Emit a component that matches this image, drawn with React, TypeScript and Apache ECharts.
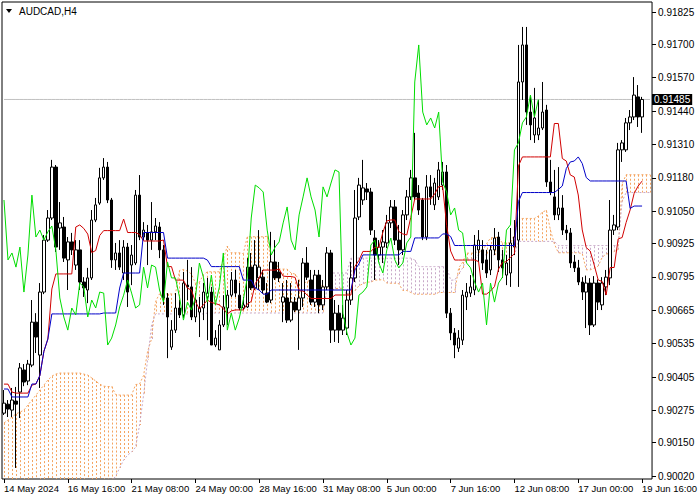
import React, { useEffect, useRef } from "react";
import * as echarts from "echarts";

const symbolTitle = "AUDCAD,H4";
const monthNames = ["Jan", "Feb", "Mar", "Apr", "May", "Jun", "Jul", "Aug", "Sep", "Oct", "Nov", "Dec"];
const startDate = Date.UTC(2024, 4, 14, 0, 0);
const futureBars = 2;

const opens = [
  0.90265, 0.90300, 0.90277, 0.90312, 0.90347, 0.90433, 0.90390, 0.90452, 0.90619, 0.90491,
  0.90736, 0.90938, 0.91024, 0.91222, 0.90985, 0.90989, 0.90861, 0.90931, 0.90841, 0.90900,
  0.90775, 0.90744, 0.90791, 0.91016, 0.91082, 0.91180, 0.91222, 0.91094, 0.90861, 0.90888,
  0.90810, 0.90911, 0.90841, 0.90849, 0.91113, 0.90950, 0.90966, 0.90938, 0.90970, 0.90989,
  0.90900, 0.90713, 0.90522, 0.90588, 0.90674, 0.90647, 0.90763, 0.90756, 0.90639, 0.90658,
  0.90674, 0.90717, 0.90736, 0.90530, 0.90511, 0.90608, 0.90674, 0.90724, 0.90783, 0.90724,
  0.90674, 0.90678, 0.90833, 0.90752, 0.90791, 0.90794, 0.90732, 0.90705, 0.90853, 0.90814,
  0.90697, 0.90713, 0.90627, 0.90697, 0.90666, 0.90713, 0.90849, 0.90783, 0.90697, 0.90802,
  0.90686, 0.90756, 0.90888, 0.90588, 0.90654, 0.90588, 0.90596, 0.90705, 0.90791, 0.91028,
  0.91094, 0.91137, 0.91125, 0.90946, 0.90880, 0.90911, 0.90927, 0.91005, 0.91067, 0.90938,
  0.90900, 0.91036, 0.91106, 0.91180, 0.91121, 0.91094, 0.90950, 0.91145, 0.91075, 0.91106,
  0.91152, 0.91203, 0.90654, 0.90577, 0.90518, 0.90549, 0.90717, 0.90732, 0.90744, 0.90900,
  0.90900, 0.90861, 0.90822, 0.90900, 0.90950, 0.90861, 0.90802, 0.90810, 0.90911, 0.90938,
  0.91553, 0.91697, 0.91436, 0.91347, 0.91347, 0.91374, 0.91444, 0.91164, 0.91106, 0.91036,
  0.91063, 0.90977, 0.90966, 0.90853, 0.90830, 0.90775, 0.90736, 0.90771, 0.90608, 0.90771,
  0.90686, 0.90756, 0.90791, 0.90977, 0.90989, 0.91289, 0.91289, 0.91394, 0.91417, 0.91495,
  0.91417,
];

const closes = [
  0.90304, 0.90281, 0.90316, 0.90300, 0.90441, 0.90386, 0.90456, 0.90619, 0.90561, 0.90736,
  0.90938, 0.91024, 0.91222, 0.90911, 0.91005, 0.90868, 0.90931, 0.90900, 0.90900, 0.90775,
  0.90752, 0.90791, 0.91016, 0.91075, 0.91180, 0.91222, 0.91094, 0.90861, 0.90888, 0.90833,
  0.90911, 0.90736, 0.90880, 0.91113, 0.90950, 0.90977, 0.90938, 0.90970, 0.90993, 0.90900,
  0.90713, 0.90639, 0.90588, 0.90674, 0.90647, 0.90771, 0.90756, 0.90639, 0.90705, 0.90674,
  0.90736, 0.90732, 0.90530, 0.90557, 0.90608, 0.90678, 0.90724, 0.90783, 0.90732, 0.90674,
  0.90686, 0.90833, 0.90752, 0.90841, 0.90833, 0.90744, 0.90697, 0.90853, 0.90791, 0.90791,
  0.90717, 0.90627, 0.90697, 0.90666, 0.90713, 0.90849, 0.90794, 0.90697, 0.90802, 0.90686,
  0.90756, 0.90888, 0.90588, 0.90654, 0.90588, 0.90635, 0.90705, 0.90791, 0.91024, 0.91152,
  0.91141, 0.91125, 0.90977, 0.90880, 0.90911, 0.90931, 0.91005, 0.91067, 0.90938, 0.90900,
  0.91036, 0.91106, 0.91180, 0.91106, 0.91055, 0.90950, 0.91145, 0.91106, 0.91160, 0.91211,
  0.91203, 0.90654, 0.90577, 0.90530, 0.90557, 0.90724, 0.90736, 0.90756, 0.90919, 0.90938,
  0.90849, 0.90810, 0.90900, 0.90946, 0.90861, 0.90830, 0.90849, 0.90927, 0.90950, 0.91553,
  0.91697, 0.91436, 0.91386, 0.91413, 0.91374, 0.91436, 0.91164, 0.91125, 0.91036, 0.91063,
  0.90977, 0.90966, 0.90849, 0.90830, 0.90775, 0.90736, 0.90771, 0.90608, 0.90771, 0.90697,
  0.90771, 0.90794, 0.90977, 0.90997, 0.91289, 0.91316, 0.91394, 0.91417, 0.91502, 0.91417,
  0.91485,
];

const lows = [
  0.90258, 0.90250, 0.90250, 0.90052, 0.90246, 0.90370, 0.90374, 0.90444, 0.90499, 0.90363,
  0.90728, 0.90931, 0.91016, 0.90892, 0.90900, 0.90853, 0.90744, 0.90880, 0.90822, 0.90744,
  0.90717, 0.90693, 0.90783, 0.91008, 0.91075, 0.91172, 0.91082, 0.90830, 0.90822, 0.90822,
  0.90783, 0.90678, 0.90763, 0.90841, 0.90938, 0.90938, 0.90841, 0.90900, 0.90938, 0.90868,
  0.90686, 0.90479, 0.90511, 0.90577, 0.90635, 0.90635, 0.90705, 0.90627, 0.90619, 0.90561,
  0.90627, 0.90549, 0.90530, 0.90522, 0.90511, 0.90600, 0.90608, 0.90717, 0.90717, 0.90666,
  0.90666, 0.90674, 0.90744, 0.90744, 0.90744, 0.90732, 0.90693, 0.90693, 0.90783, 0.90775,
  0.90619, 0.90616, 0.90619, 0.90658, 0.90511, 0.90678, 0.90783, 0.90686, 0.90678, 0.90654,
  0.90666, 0.90744, 0.90538, 0.90542, 0.90538, 0.90569, 0.90569, 0.90686, 0.90775, 0.91016,
  0.91075, 0.91094, 0.90958, 0.90783, 0.90853, 0.90849, 0.90907, 0.90985, 0.90919, 0.90841,
  0.90880, 0.91016, 0.91094, 0.91094, 0.91036, 0.90938, 0.90938, 0.91075, 0.91055, 0.91094,
  0.91133, 0.90635, 0.90549, 0.90479, 0.90503, 0.90530, 0.90666, 0.90717, 0.90724, 0.90853,
  0.90822, 0.90791, 0.90802, 0.90880, 0.90814, 0.90791, 0.90763, 0.90756, 0.90880, 0.90756,
  0.91483, 0.91386, 0.91327, 0.91316, 0.91327, 0.91366, 0.91145, 0.91113, 0.91016, 0.91016,
  0.90958, 0.90938, 0.90830, 0.90814, 0.90763, 0.90705, 0.90596, 0.90569, 0.90600, 0.90666,
  0.90666, 0.90724, 0.90763, 0.90958, 0.90977, 0.91242, 0.91281, 0.91366, 0.91405, 0.91378,
  0.91355,
];

const highs = [
  0.90355, 0.90316, 0.90363, 0.90367, 0.90460, 0.90456, 0.90472, 0.90705, 0.90654, 0.90771,
  0.90958, 0.91055, 0.91250, 0.91230, 0.91086, 0.91028, 0.90950, 0.90966, 0.90938, 0.90938,
  0.90794, 0.90830, 0.91055, 0.91102, 0.91219, 0.91257, 0.91242, 0.91102, 0.90927, 0.90938,
  0.90938, 0.90927, 0.90919, 0.91133, 0.91191, 0.91008, 0.90997, 0.91086, 0.91024, 0.91008,
  0.90919, 0.90732, 0.90627, 0.90732, 0.90705, 0.90814, 0.90861, 0.90833, 0.90732, 0.90717,
  0.90771, 0.90791, 0.90756, 0.90588, 0.90627, 0.90724, 0.90744, 0.90814, 0.90822, 0.90771,
  0.90717, 0.90868, 0.90888, 0.90938, 0.90977, 0.90822, 0.90771, 0.90970, 0.90938, 0.90853,
  0.90771, 0.90783, 0.90771, 0.90717, 0.90783, 0.90868, 0.90911, 0.90822, 0.90822, 0.90822,
  0.90783, 0.90911, 0.90900, 0.90705, 0.90686, 0.90686, 0.90744, 0.90853, 0.91133, 0.91180,
  0.91250, 0.91160, 0.91141, 0.90977, 0.90938, 0.90977, 0.91036, 0.91094, 0.91094, 0.90997,
  0.91055, 0.91133, 0.91211, 0.91355, 0.91152, 0.91102, 0.91191, 0.91191, 0.91180, 0.91242,
  0.91242, 0.91230, 0.90674, 0.90596, 0.90588, 0.90744, 0.90771, 0.90802, 0.90958, 0.90977,
  0.90938, 0.90900, 0.90919, 0.90985, 0.90970, 0.90900, 0.90880, 0.90985, 0.91016, 0.91697,
  0.91767, 0.91767, 0.91502, 0.91530, 0.91483, 0.91553, 0.91464, 0.91250, 0.91211, 0.91222,
  0.91113, 0.90997, 0.90985, 0.90880, 0.90861, 0.90794, 0.90800, 0.90790, 0.90798, 0.90785,
  0.90794, 0.90822, 0.91094, 0.91036, 0.91316, 0.91327, 0.91413, 0.91444, 0.91572, 0.91541,
  0.91495,
];

// Indicator values at the left edge, which depend on bars before the visible window
const tenkanHead = [0.90378, 0.90378, 0.90347, 0.90343, 0.90343, 0.90343, 0.90343, 0.90374];
const kijunHead = [0.90359, 0.90359, 0.90328, 0.90328, 0.90328, 0.90328, 0.90328];
const spanAHead = [
  0.90227, 0.90238, 0.90250, 0.90262, 0.90269, 0.90277, 0.90297, 0.90316, 0.90335, 0.90355,
  0.90374, 0.90394, 0.90409, 0.90417, 0.90421, 0.90421, 0.90421, 0.90421, 0.90421, 0.90421,
  0.90417, 0.90413, 0.90402, 0.90390, 0.90378, 0.90370,
];
const spanBHead = [
  0.89900, 0.89900, 0.89900, 0.89900, 0.89900, 0.89900, 0.89900, 0.89900, 0.89900, 0.89900,
  0.89900, 0.89900, 0.89900, 0.89900, 0.89900, 0.89900, 0.89900, 0.89900, 0.89900, 0.89900,
  0.89900, 0.89900, 0.89900, 0.89900, 0.89900, 0.89950, 0.89980, 0.90000, 0.90020, 0.90052,
  0.90083, 0.90102, 0.90114, 0.90133, 0.90219, 0.90335, 0.90472, 0.90608,
];

const priceTicks = [
  0.90020, 0.90150, 0.90275, 0.90405, 0.90535, 0.90665, 0.90795, 0.90925,
  0.91050, 0.91180, 0.91310, 0.91440, 0.91570, 0.91700, 0.91825,
];

const priceMin = 0.90009;
const priceMax = 0.91864;

function buildCategories(count: number): string[] {
  const out: string[] = [];
  let t = startDate;
  while (out.length < count) {
    const d = new Date(t);
    const wd = d.getUTCDay();
    if (wd !== 0 && wd !== 6) {
      const day = d.getUTCDate();
      const mon = monthNames[d.getUTCMonth()];
      const hh = String(d.getUTCHours()).padStart(2, "0");
      out.push(out.length === 0 ? `${day} ${mon} ${d.getUTCFullYear()}` : `${day} ${mon} ${hh}:00`);
    }
    t += 4 * 3600 * 1000;
  }
  return out;
}

function midRange(from: number, to: number): number {
  let hi = -Infinity;
  let lo = Infinity;
  for (let k = Math.max(0, from); k <= to; k++) {
    hi = Math.max(hi, highs[k]);
    lo = Math.min(lo, lows[k]);
  }
  return (hi + lo) / 2;
}

export default function App() {
  const ref = useRef<HTMLDivElement>(null);

  useEffect(() => {
    document.body.style.margin = "0";
    if (!ref.current) return;
    const chart = echarts.init(ref.current, undefined, { renderer: "svg" });

    const n = opens.length;
    const total = n + futureBars;
    const categories = buildCategories(total);

    const tenkan: number[] = [];
    const kijun: number[] = [];
    for (let i = 0; i < n; i++) {
      tenkan.push(i < tenkanHead.length ? tenkanHead[i] : midRange(i - 8, i));
      kijun.push(i < kijunHead.length ? kijunHead[i] : midRange(i - 25, i));
    }
    const spanA: number[] = [];
    const spanB: number[] = [];
    for (let i = 0; i < total; i++) {
      spanA.push(i < spanAHead.length ? spanAHead[i] : (tenkan[i - 26] + kijun[i - 26]) / 2);
      spanB.push(i < spanBHead.length ? spanBHead[i] : midRange(i - 77, i - 26));
    }
    const chikou: (number | null)[] = [];
    for (let i = 0; i < total; i++) chikou.push(i + 26 < n ? closes[i + 26] : null);

    const candles = opens.map((o, i) => [o, closes[i], lows[i], highs[i]]);
    const cloud = spanA.map((a, i) => [i, a, spanB[i]]);
    const lastPrice = closes[n - 1];
    const bidLine = categories.map(() => lastPrice);

    const font = "Liberation Sans";
    const sandy = "#f4a460";
    const thistle = "#c8a8c8";

    chart.setOption({
      animation: false,
      backgroundColor: "#ffffff",
      textStyle: { fontFamily: font },
      grid: {
        left: 2,
        right: 46,
        top: 2,
        bottom: 21,
        show: true,
        borderColor: "#000000",
        borderWidth: 1,
        backgroundColor: "transparent",
      },
      xAxis: {
        type: "category",
        data: categories,
        boundaryGap: true,
        axisLine: { show: false },
        axisTick: {
          show: true,
          alignWithLabel: true,
          interval: (idx: number) => idx % 16 === 0,
          length: 4,
          lineStyle: { color: "#000000", width: 1 },
        },
        axisLabel: {
          show: true,
          interval: (idx: number) => idx % 16 === 0,
          align: "left",
          margin: 4,
          fontSize: 9.5,
          color: "#000000",
          fontFamily: font,
        },
        splitLine: { show: false },
      },
      yAxis: {
        type: "value",
        position: "right",
        min: priceMin,
        max: priceMax,
        scale: true,
        axisLine: { show: false },
        axisTick: {
          show: true,
          customValues: priceTicks,
          length: 4,
          lineStyle: { color: "#000000", width: 1 },
        },
        axisLabel: {
          show: true,
          customValues: priceTicks,
          margin: 6,
          fontSize: 10,
          color: "#000000",
          fontFamily: font,
          formatter: (v: number) => v.toFixed(5),
        },
        splitLine: { show: false },
      },
      graphic: [
        {
          type: "polygon",
          shape: { points: [[6, 9], [12, 9], [9, 13]] },
          style: { fill: "#000000" },
          z: 100,
        },
        {
          type: "text",
          x: 19,
          y: 11,
          style: {
            text: symbolTitle,
            fill: "#000000",
            font: `10px "${font}"`,
            verticalAlign: "middle",
            align: "left",
          },
          z: 100,
        },
      ],
      series: [
        {
          type: "custom",
          name: "Kumo",
          data: cloud,
          clip: true,
          silent: true,
          z: 1,
          renderItem: (params: any, api: any) => {
            const i = api.value(0);
            const a = api.value(1);
            const b = api.value(2);
            const p1 = api.coord([i, a]);
            const p2 = api.coord([i, b]);
            const x = Math.round(p1[0]) + 0.5;
            return {
              type: "line",
              shape: { x1: x, y1: p1[1], x2: x, y2: p2[1] },
              style: { stroke: a >= b ? sandy : thistle, lineWidth: 1, lineDash: [2, 2] },
            };
          },
        },
        {
          type: "line",
          name: "Senkou Span A",
          data: spanA,
          showSymbol: false,
          symbol: "none",
          silent: true,
          z: 2,
          lineStyle: { color: sandy, width: 1, type: [2, 2] },
        },
        {
          type: "line",
          name: "Senkou Span B",
          data: spanB,
          showSymbol: false,
          symbol: "none",
          silent: true,
          z: 2,
          lineStyle: { color: thistle, width: 1, type: [2, 2] },
        },
        {
          type: "line",
          name: "Bid",
          data: bidLine,
          showSymbol: false,
          symbol: "none",
          silent: true,
          z: 2,
          lineStyle: { color: "#c0c0c0", width: 1 },
          endLabel: {
            show: true,
            distance: 2,
            formatter: () => lastPrice.toFixed(5),
            color: "#ffffff",
            backgroundColor: "#000000",
            padding: [1, 2, 0, 2],
            fontSize: 10,
            fontFamily: font,
          },
        },
        {
          type: "candlestick",
          name: symbolTitle,
          data: candles,
          barWidth: 3,
          silent: true,
          z: 3,
          itemStyle: {
            color: "#ffffff",
            color0: "#000000",
            borderColor: "#000000",
            borderColor0: "#000000",
            borderWidth: 1,
          },
        },
        {
          type: "line",
          name: "Tenkan-sen",
          data: tenkan,
          showSymbol: false,
          symbol: "none",
          silent: true,
          z: 4,
          lineStyle: { color: "#d00000", width: 1 },
        },
        {
          type: "line",
          name: "Kijun-sen",
          data: kijun,
          showSymbol: false,
          symbol: "none",
          silent: true,
          z: 4,
          lineStyle: { color: "#0000c8", width: 1 },
        },
        {
          type: "line",
          name: "Chikou Span",
          data: chikou,
          showSymbol: false,
          symbol: "none",
          silent: true,
          connectNulls: false,
          z: 5,
          lineStyle: { color: "#00dd00", width: 1 },
        },
      ],
    });

    return () => {
      chart.dispose();
    };
  }, []);

  return <div ref={ref} style={{ width: 700, height: 500 }} />;
}
